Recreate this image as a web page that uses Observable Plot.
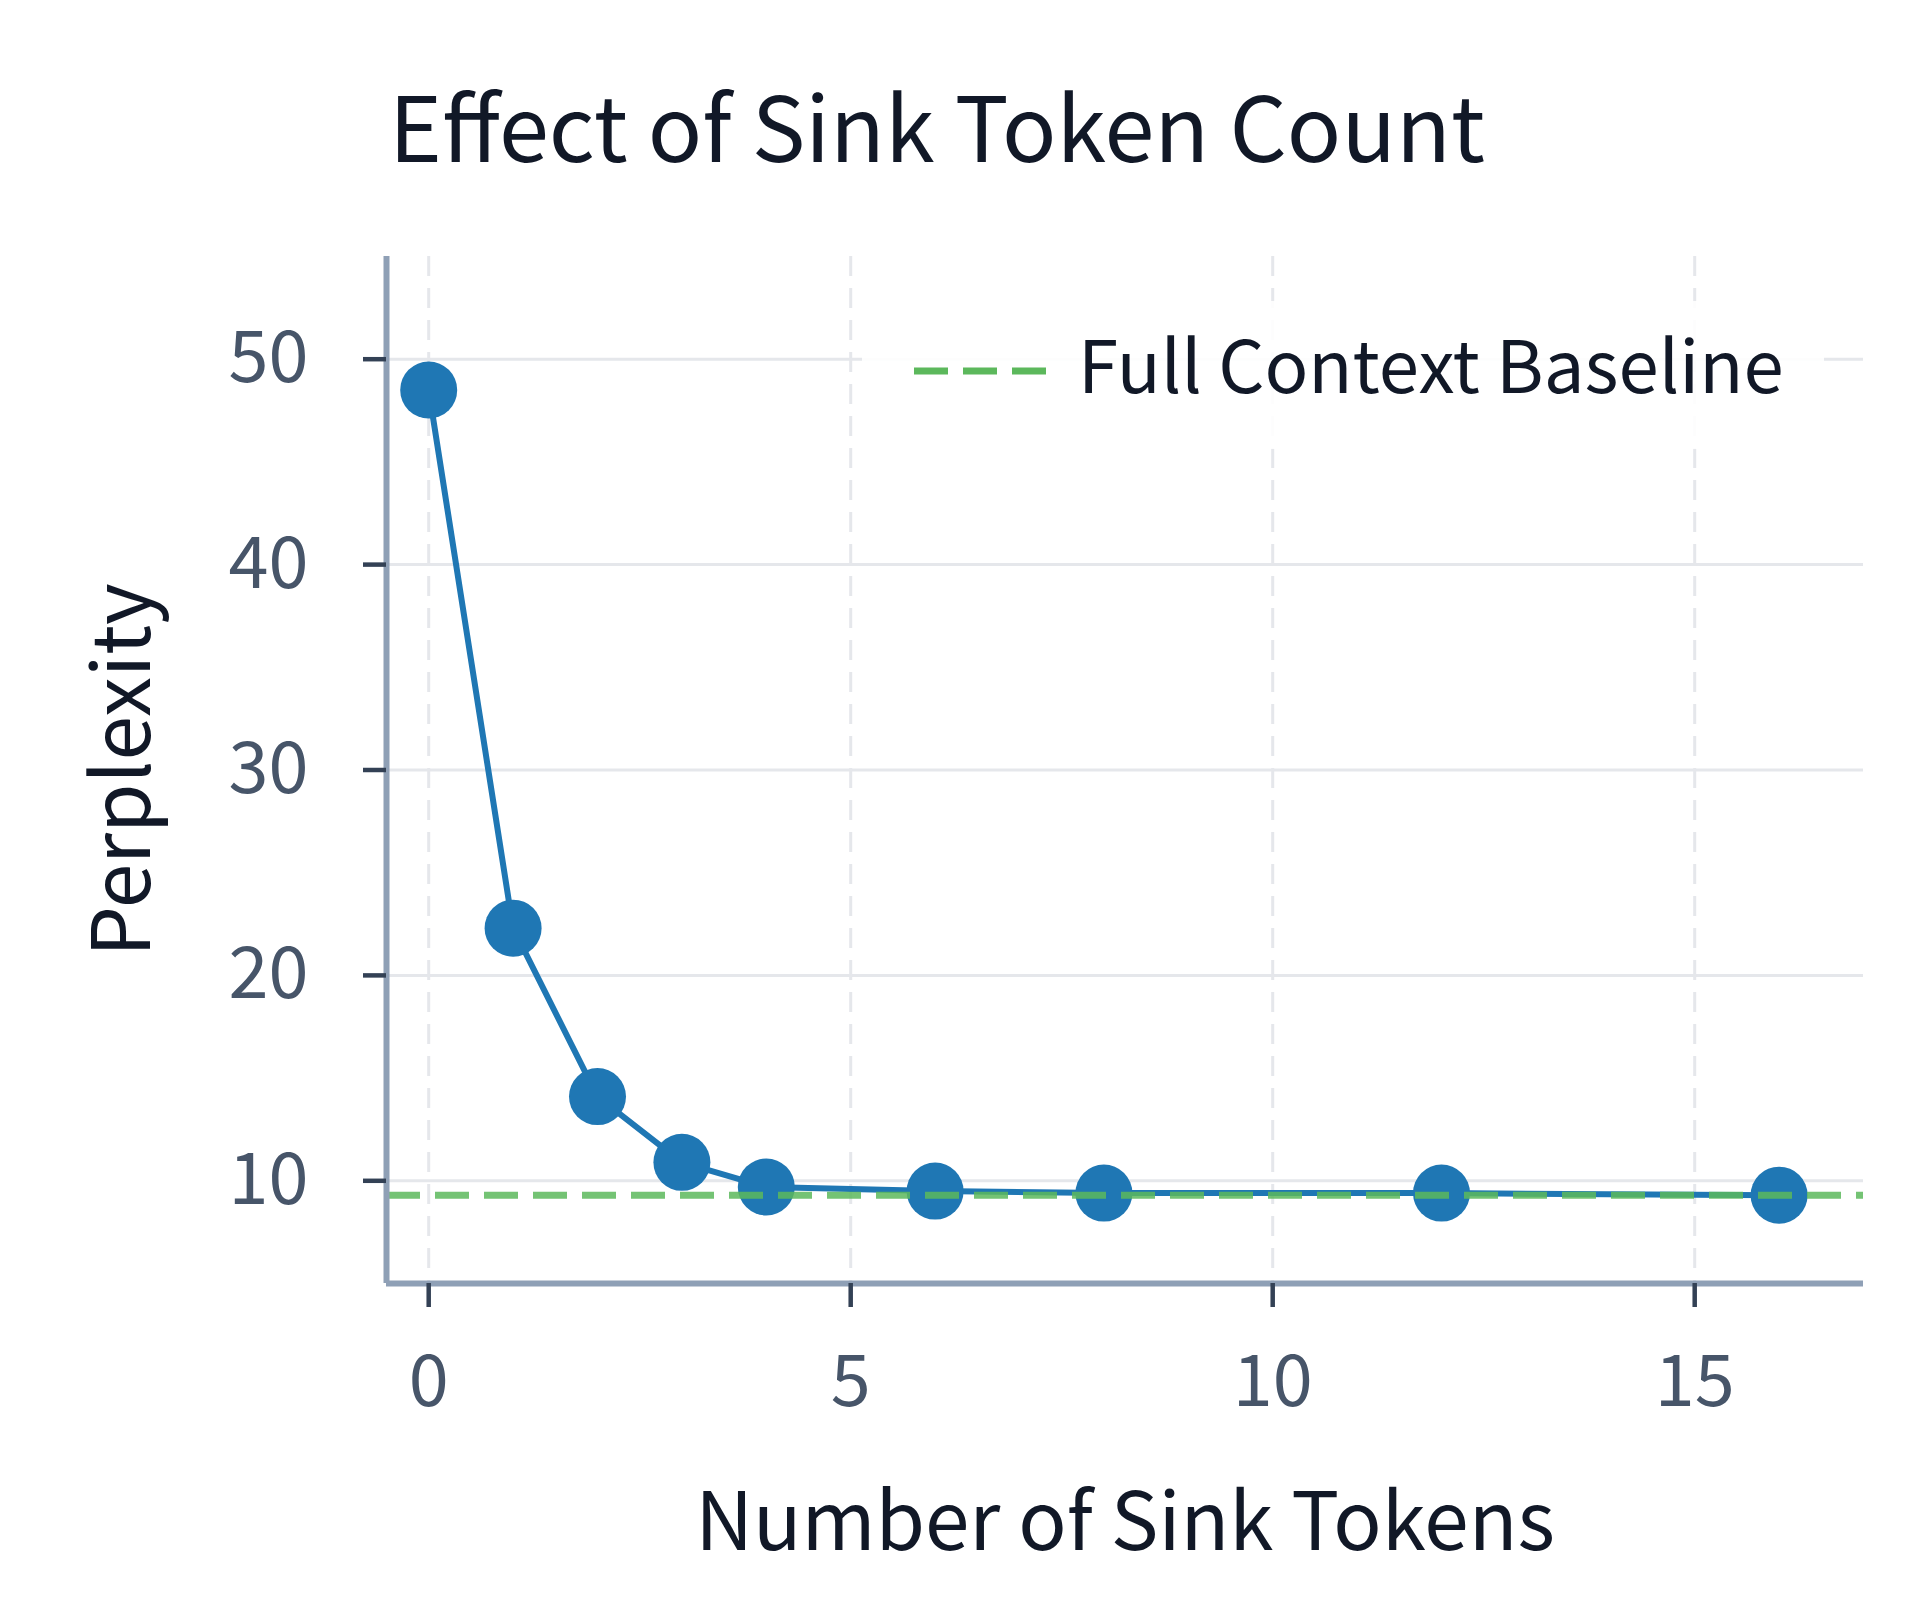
<!DOCTYPE html>
<html>
<head>
<meta charset="utf-8">
<script src="https://cdn.jsdelivr.net/npm/d3@7"></script>
<script src="https://cdn.jsdelivr.net/npm/@observablehq/plot@0.6"></script>
<style>
  html, body { margin: 0; padding: 0; background: #ffffff; }
  #wrap { position: relative; width: 1920px; height: 1600px; font-family: "Noto Sans CJK KR", "Noto Sans", sans-serif; }
  #title { position: absolute; left: 389px; top: 0; height: 200px; width: 1500px; font-size: 90px; line-height: 1; color: #111827; }
  #title span { position: absolute; left: 0; top: 78px; white-space: nowrap; }
  #chart { position: absolute; left: 0; top: 200px; }
  #legend { position: absolute; left: 862px; top: 301px; width: 962px; height: 148px; background: rgba(255,255,255,0.9); }
  #legend svg { position: absolute; left: 52px; top: 64px; }
  #legend .lab { position: absolute; left: 216px; top: 25px; font-size: 72.5px; line-height: 1; color: #111827; white-space: nowrap; }
</style>
</head>
<body>
<div id="wrap">
  <div id="title"><span>Effect of Sink Token Count</span></div>
  <div id="chart"></div>
  <div id="legend">
    <svg width="132" height="12"><line x1="0" y1="6" x2="132" y2="6" stroke="#5cb85c" stroke-width="7" stroke-dasharray="34,15"></line></svg>
    <div class="lab">Full Context Baseline</div>
  </div>
</div>
<script>
// ---- data ----
const sinkTokens = [0, 1, 2, 3, 4, 6, 8, 12, 16];
const perplexity = [48.5, 22.3, 14.1, 10.9, 9.7, 9.5, 9.4, 9.4, 9.3];
const baselinePerplexity = [9.3];
const xTicks = [0, 5, 10, 15];
const yTicks = [10, 20, 30, 40, 50];
const xDomain = [-0.5, 17];
const yDomain = [5, 55];
const xLabel = "Number of Sink Tokens";
const yLabel = "Perplexity";

const data = sinkTokens.map((x, i) => ({x, y: perplexity[i]}));

const spine = "#8fa0b6";
const tickColor = "#334155";
const tickText = "#475569";
const grid = "#e5e7eb";

const chart = Plot.plot({
  width: 1920,
  height: 1400,
  marginLeft: 386,
  marginRight: 57,
  marginTop: 56,
  marginBottom: 317,
  style: {fontFamily: '"Noto Sans CJK KR", "Noto Sans", sans-serif', background: "transparent"},
  x: {domain: xDomain},
  y: {domain: yDomain},
  marks: [
    Plot.gridY(yTicks, {stroke: grid, strokeOpacity: 1, strokeWidth: 3}),
    Plot.gridX(xTicks, {stroke: grid, strokeOpacity: 1, strokeWidth: 3, strokeDasharray: "20,12"}),
    Plot.line(data, {x: "x", y: "y", stroke: "#1f77b4", strokeWidth: 6}),
    Plot.dot(data, {x: "x", y: "y", r: 28.5, fill: "#1f77b4", stroke: "none"}),
    Plot.ruleY(baselinePerplexity, {stroke: "#5cb85c", strokeWidth: 7, strokeDasharray: "34,15", strokeOpacity: 0.85}),
    Plot.ruleX([xDomain[0]], {stroke: spine, strokeWidth: 6}),
    Plot.ruleY([yDomain[0]], {stroke: spine, strokeWidth: 6}),
    Plot.axisY(yTicks, {tickSize: 23, tickPadding: 55, fontSize: 72, stroke: tickColor, strokeWidth: 4.5, fill: tickText, label: null}),
    Plot.axisX(xTicks, {tickSize: 24, tickPadding: 47, fontSize: 72, stroke: tickColor, strokeWidth: 4.5, fill: tickText, label: null}),
    Plot.text([xLabel], {frameAnchor: "bottom", dy: 266, lineAnchor: "bottom", fontSize: 80, fill: "#111827"}),
    Plot.text([yLabel], {frameAnchor: "left", dx: -237, rotate: -90, textAnchor: "middle", lineAnchor: "bottom", fontSize: 80, fill: "#111827"})
  ]
});
document.getElementById("chart").appendChild(chart);
</script>
</body>
</html>
